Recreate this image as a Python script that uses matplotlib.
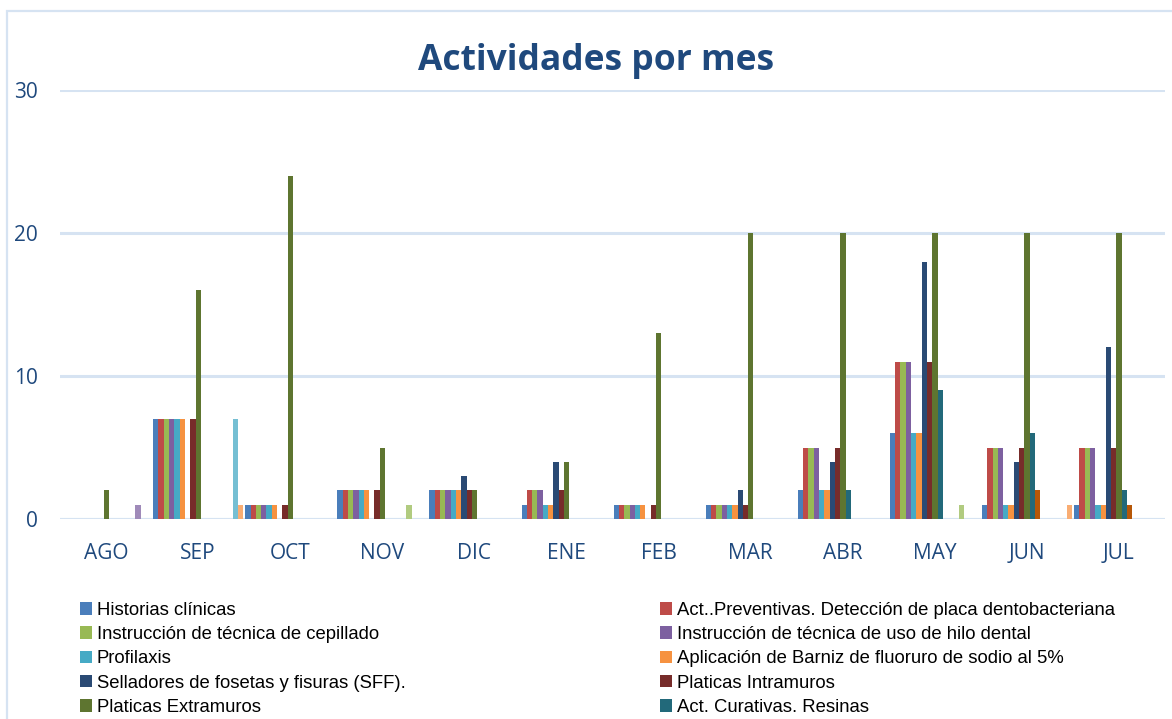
import numpy as np
import matplotlib
matplotlib.use("Agg")
import matplotlib.pyplot as plt
from matplotlib.patches import Rectangle, Patch

meses = ["AGO", "SEP", "OCT", "NOV", "DIC", "ENE", "FEB", "MAR", "ABR", "MAY", "JUN", "JUL"]

historias = [0, 7, 1, 2, 2, 1, 1, 1, 2, 6, 1, 1]
preventivas = [0, 7, 1, 2, 2, 2, 1, 1, 5, 11, 5, 5]
cepillado = [0, 7, 1, 2, 2, 2, 1, 1, 5, 11, 5, 5]
hilo_dental = [0, 7, 1, 2, 2, 2, 1, 1, 5, 11, 5, 5]
profilaxis = [0, 7, 1, 2, 2, 1, 1, 1, 2, 6, 1, 1]
barniz = [0, 7, 1, 2, 2, 1, 1, 1, 2, 6, 1, 1]
selladores = [0, 0, 0, 0, 3, 4, 0, 2, 4, 18, 4, 12]
intramuros = [0, 7, 1, 2, 2, 2, 1, 1, 5, 11, 5, 5]
extramuros = [2, 16, 24, 5, 2, 4, 13, 20, 20, 20, 20, 20]
resinas = [0, 0, 0, 0, 0, 0, 0, 0, 2, 9, 6, 2]
# series whose legend rows are cut off in the original
serie_11 = [0, 0, 0, 0, 0, 0, 0, 0, 0, 0, 2, 1]
serie_12 = [0, 0, 0, 0, 0, 0, 0, 0, 0, 0, 0, 0]
serie_13 = [0, 0, 0, 0, 0, 0, 0, 0, 0, 0, 0, 0]
serie_14 = [0, 0, 0, 1, 0, 0, 0, 0, 0, 1, 0, 0]
serie_15 = [1, 0, 0, 0, 0, 0, 0, 0, 0, 0, 0, 0]
serie_16 = [0, 7, 0, 0, 0, 0, 0, 0, 0, 0, 0, 0]
serie_17 = [0, 1, 0, 0, 0, 0, 0, 0, 0, 0, 1, 0]

nombres = [
    "Historias clínicas",
    "Act..Preventivas. Detección de placa dentobacteriana",
    "Instrucción de técnica de cepillado",
    "Instrucción de técnica de uso de hilo dental",
    "Profilaxis",
    "Aplicación de Barniz de fluoruro de sodio al 5%",
    "Selladores de fosetas y fisuras (SFF).",
    "Platicas Intramuros",
    "Platicas Extramuros",
    "Act. Curativas. Resinas",
]

series = [historias, preventivas, cepillado, hilo_dental, profilaxis, barniz,
          selladores, intramuros, extramuros, resinas,
          serie_11, serie_12, serie_13, serie_14, serie_15, serie_16, serie_17]

colores = ["#4A7EBB", "#BE4B48", "#98B954", "#7D60A0", "#46AAC5", "#F69240",
           "#2A4A74", "#772C2A", "#5E7530", "#22697A", "#B65708",
           "#7EA1CE", "#CF7C7A", "#B1CB80", "#9F8AB9", "#75BFD3", "#F9AD73"]

azul_texto = "#1F497D"
grid_color = "#D6E3F2"

fig = plt.figure(figsize=(11.72, 7.19), dpi=100)
ax = fig.add_axes([60 / 1172, 1 - 519 / 719, 1105 / 1172, 429 / 719])

x = np.arange(len(meses))
ancho = 0.0576
inicio = -0.5 + 0.012
for k, (vals, col) in enumerate(zip(series, colores)):
    ax.bar(x + inicio + k * ancho, vals, width=ancho, align="edge", color=col, linewidth=0, zorder=3)

ax.set_xlim(-0.5, len(meses) - 0.5)
ax.set_ylim(0, 30)
ax.set_yticks([0, 10, 20, 30])
ax.set_xticks(x)
ax.set_xticklabels(meses)
for s in ax.spines.values():
    s.set_visible(False)
ax.grid(axis="y", color=grid_color, linewidth=2.2, zorder=0)
ax.axhline(0, color=grid_color, linewidth=2.2, zorder=2)
ax.set_axisbelow(True)
ax.tick_params(axis="both", length=0, labelcolor=azul_texto, labelsize=15)
ax.tick_params(axis="y", pad=16)
ax.tick_params(axis="x", pad=17)
for lab in ax.get_xticklabels() + ax.get_yticklabels():
    lab.set_fontfamily("Open Sans")

fig.text(596 / 1172, 1 - 61 / 719, "Actividades por mes", ha="center", va="center",
         fontsize=25.5, fontweight="bold", color=azul_texto, family="Open Sans")

# chart border (only top and left edges are visible)
fig.add_artist(Rectangle((7 / 1172, -0.2), 1.5, 1.2 - 11 / 719, transform=fig.transFigure,
                         fill=False, edgecolor=grid_color, linewidth=1.6))

handles = [Patch(facecolor=c, edgecolor="none") for c in colores[:10]]
ley_kw = dict(frameon=False, prop={"family": "Liberation Sans", "size": 13.3},
              handlelength=0.67, handleheight=0.67, handletextpad=0.25,
              labelspacing=0.39, borderpad=0, borderaxespad=0)
fig.legend(handles[0::2], nombres[0::2], loc="upper left",
           bbox_to_anchor=(80 / 1172, 1 - 602 / 719), **ley_kw)
fig.legend(handles[1::2], nombres[1::2], loc="upper left",
           bbox_to_anchor=(660 / 1172, 1 - 602 / 719), **ley_kw)

fig.savefig("out.png", dpi=100)
